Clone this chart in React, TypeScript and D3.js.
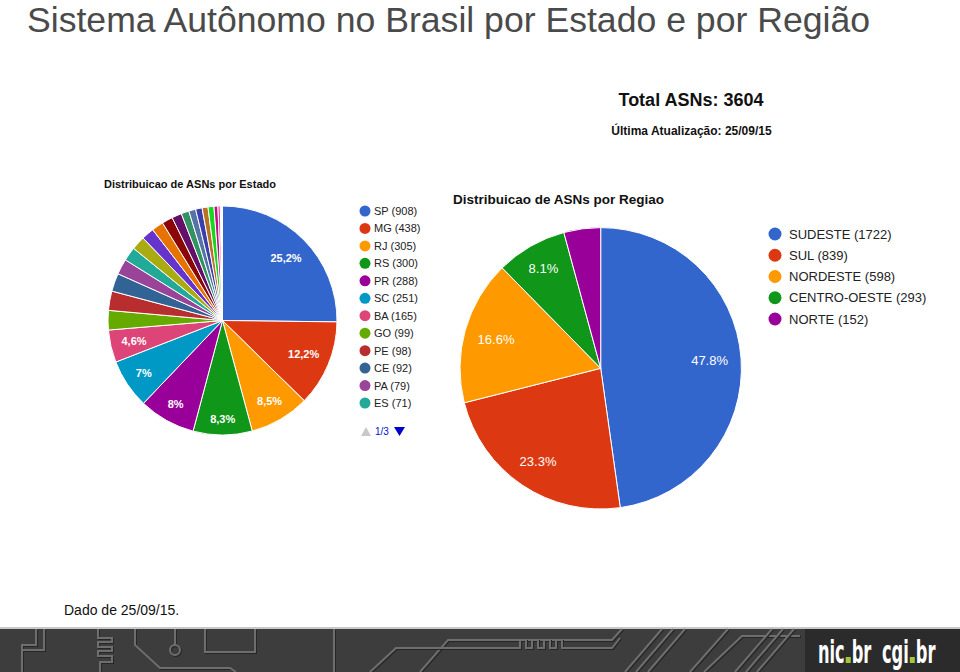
import * as d3 from "d3";

// ASNs per estado (ordem do gráfico, 25/09/15)
const stateNames = ["SP", "MG", "RJ", "RS", "PR", "SC", "BA", "GO", "PE", "CE", "PA", "ES",
  "DF", "MT", "MS", "RN", "PB", "MA", "PI", "AL", "AM", "SE", "RO", "TO", "AC", "AP", "RR"];
const stateCounts = [908, 438, 305, 300, 288, 251, 165, 99, 98, 92, 79, 71,
  70, 64, 60, 55, 50, 40, 35, 33, 30, 30, 20, 12, 5, 3, 3];

// ASNs per regiao
const regionNames = ["SUDESTE", "SUL", "NORDESTE", "CENTRO-OESTE", "NORTE"];
const regionCounts = [1722, 839, 598, 293, 152];

const palette = ["#3366cc", "#dc3912", "#ff9900", "#109618", "#990099", "#0099c6", "#dd4477",
  "#66aa00", "#b82e2e", "#316395", "#994499", "#22aa99", "#aaaa11", "#6633cc", "#e67300",
  "#8b0707", "#651067", "#329262", "#5574a6", "#3b3eac", "#b77322", "#16d620", "#b91383",
  "#f4359e", "#9c5935", "#a9c413", "#2a778d"];

const FONT = '"Liberation Sans", Arial, sans-serif';
const LOGO_FONT = '"DejaVu Sans Condensed", "DejaVu Sans", sans-serif';
const legendPageSize = 12;

let ctx: CanvasRenderingContext2D | null = null;
function measure(text: string, font: string) {
  if (!ctx) ctx = document.createElement("canvas").getContext("2d");
  if (!ctx) return text.length * 6;
  ctx.font = font;
  return ctx.measureText(text).width;
}

type Item = { name: string; value: number };

// google-style label: far corner of the text box sits on a circle of 0.91r
function labelPos(a: d3.PieArcDatum<Item>, r: number, text: string, font: string, fs: number) {
  const m = (a.startAngle + a.endAngle) / 2;
  const ux = Math.sin(m), uy = -Math.cos(m);
  const w = measure(text, font) / 2, h = fs * 0.45;
  const sx = Math.sign(ux) * w, sy = Math.sign(uy) * h;
  const R = 0.91 * r;
  const us = ux * sx + uy * sy;
  const t = -us + Math.sqrt(us * us - (sx * sx + sy * sy) + R * R);
  return [t * ux, t * uy];
}

function Pie({ data, cx, cy, r, fs, bold, decimal }: {
  data: Item[]; cx: number; cy: number; r: number; fs: number; bold: boolean; decimal: string;
}) {
  const total = d3.sum(data, d => d.value);
  const arcs = d3.pie<Item>().sort(null).value(d => d.value)(data);
  const arc = d3.arc<d3.PieArcDatum<Item>>().innerRadius(0).outerRadius(r);
  const font = `${bold ? "bold " : ""}${fs}px ${FONT}`;
  const fmt = (p: number) => {
    let s = d3.format(".1f")(p);
    if (s.endsWith(".0")) s = s.slice(0, -2);
    return s.replace(".", decimal) + "%";
  };
  return (
    <g transform={`translate(${cx},${cy})`}>
      {arcs.map((a, i) => (
        <path key={i} d={arc(a) || ""} fill={palette[i]} stroke="#fff" strokeWidth={1} />
      ))}
      {arcs.map((a, i) => {
        const p = (a.data.value / total) * 100;
        if (p < 4.5) return null;
        const t = fmt(p);
        const [x, y] = labelPos(a, r, t, font, fs);
        return (
          <text key={"l" + i} x={x} y={y} dy="0.36em" textAnchor="middle" fill="#fff"
            fontSize={fs} fontWeight={bold ? "bold" : "normal"} fontFamily={FONT}>{t}</text>
        );
      })}
    </g>
  );
}

function Logo({ x, word }: { x: number; word: string }) {
  const fs = 22, sx = 0.82, sy = 1.45;
  const font = `bold ${fs}px ${LOGO_FONT}`;
  const w = measure(word, font) * sx;
  return (
    <g transform={`translate(${x},663)`}>
      <text transform={`scale(${sx},${sy})`} fontSize={fs} fontWeight="bold" fontFamily={LOGO_FONT} fill="#fff">{word}</text>
      <rect x={w + 1} y={-6} width={5} height={6} fill="#a4c639" />
      <text transform={`translate(${w + 7},0) scale(${sx},${sy})`} fontSize={fs} fontWeight="bold"
        fontFamily={LOGO_FONT} fill="#fff">br</text>
    </g>
  );
}

function Footer() {
  const y0 = 629;
  const lines = [
    "M22,672 L22,650 M36,629 L36,645 L22,645 L22,650 L44,650 L44,629",
    "M98,629 L98,638 L112,638 L112,642 L98,642 L98,647 L112,647 L112,651 L98,651 L98,656 L112,656 L112,662 L100,662 L100,672",
    "M135,629 L135,645 L160,668 L230,668 L236,672",
    "M175,629 L175,646",
    "M205,629 L205,652 L255,652 L255,629",
    "M334,629 L334,672",
    "M420,672 L448,640 L612,640 L622,629",
    "M370,672 L396,648 L505,648",
    "M505,648 L520,648 L520,640 L526,640 L526,648 L532,648 L532,640 L538,640 L538,648 L544,648 L544,640 L550,640 L550,648 L556,648 L556,640 L562,640 L562,648 L612,648 L620,638",
    "M625,672 L662,629 M636,672 L673,629 M648,672 L685,629",
    "M690,672 L728,629 M704,672 L742,636 L800,636",
    "M735,672 L772,629 M746,672 L783,629 M757,672 L794,629",
  ];
  return (
    <g>
      <rect x={0} y={y0 - 2} width={960} height={2} fill="#c8c8c8" />
      <rect x={0} y={y0} width={960} height={672 - y0} fill="#3d3d3d" />
      {lines.map((d, i) => (
        <g key={i}>
          <path d={d} fill="none" stroke="#262626" strokeWidth={2} transform="translate(1,1)" />
          <path d={d} fill="none" stroke="#6e6e6e" strokeWidth={2} />
        </g>
      ))}
      <circle cx={175} cy={650} r={5} fill="none" stroke="#262626" strokeWidth={2} transform="translate(1,1)" />
      <circle cx={175} cy={650} r={5} fill="none" stroke="#6e6e6e" strokeWidth={2} />
      <rect x={805} y={y0} width={155} height={672 - y0} fill="#2b2b2b" />
      <Logo x={818} word="nic" />
      <Logo x={882} word="cgi" />
    </g>
  );
}

export default function App() {
  const states: Item[] = stateNames.map((n, i) => ({ name: n, value: stateCounts[i] }));
  const regions: Item[] = regionNames.map((n, i) => ({ name: n, value: regionCounts[i] }));
  const total = d3.sum(stateCounts);
  const legendY = d3.scaleLinear().domain([0, legendPageSize - 1]).range([211, 403]);
  const regionLegendY = d3.scaleLinear().domain([0, regionNames.length - 1]).range([234, 319]);

  return (
    <svg width={960} height={672} style={{ position: "absolute", left: 0, top: 0, display: "block" }}
      fontFamily={FONT}>
      <rect width={960} height={672} fill="#fff" />
      <text x={27} y={32} fontSize={35.5} fill="#4a4a4a" textLength={843} lengthAdjust="spacingAndGlyphs">
        Sistema Autônomo no Brasil por Estado e por Região
      </text>

      <text x={691} y={106} fontSize={18} fontWeight="bold" textAnchor="middle" fill="#111">Total ASNs: {total}</text>
      <text x={691.5} y={135} fontSize={12} fontWeight="bold" textAnchor="middle" fill="#111">Última Atualização: 25/09/15</text>

      {/* por estado */}
      <text x={104} y={188} fontSize={11} fontWeight="bold" fill="#111">Distribuicao de ASNs por Estado</text>
      <Pie data={states} cx={222.5} cy={320.5} r={114.5} fs={11} bold={true} decimal="," />
      {states.slice(0, legendPageSize).map((d, i) => (
        <g key={d.name}>
          <circle cx={365} cy={legendY(i)} r={5.5} fill={palette[i]} />
          <text x={374} y={legendY(i) + 4} fontSize={11} fill="#222">{`${d.name} (${d.value})`}</text>
        </g>
      ))}
      <path d="M361,436 L366,427 L371,436 Z" fill="#c8c8c8" />
      <text x={375} y={435} fontSize={10} fill="#0011cc">1/3</text>
      <path d="M394,427 L405,427 L399.5,436 Z" fill="#0000cc" />

      {/* por regiao */}
      <text x={453} y={204} fontSize={13.5} fontWeight="bold" fill="#111">Distribuicao de ASNs por Regiao</text>
      <Pie data={regions} cx={600.7} cy={368.3} r={140.7} fs={13} bold={false} decimal="." />
      {regions.map((d, i) => (
        <g key={d.name}>
          <circle cx={775} cy={regionLegendY(i)} r={6.5} fill={palette[i]} />
          <text x={789} y={regionLegendY(i) + 4.5} fontSize={13} fill="#222">{`${d.name} (${d.value})`}</text>
        </g>
      ))}

      <text x={64} y={615} fontSize={14} fill="#111">Dado de 25/09/15.</text>
      <Footer />
    </svg>
  );
}
